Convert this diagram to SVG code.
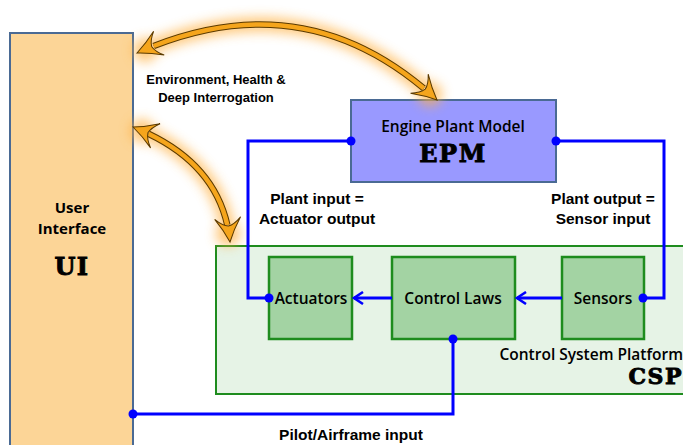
<svg xmlns="http://www.w3.org/2000/svg" width="683" height="445" viewBox="0 0 683 445">
<style>
.lbl{font-family:"Liberation Sans",Arial,sans-serif;font-weight:bold;font-size:15.5px;fill:#000;text-anchor:middle}
.sm{font-size:13px}
.cal{font-family:"Open Sans","Noto Sans",sans-serif;font-weight:600;font-size:15.5px;fill:#000;text-anchor:middle}
.ui{font-family:"Open Sans","Noto Sans",sans-serif;font-weight:bold;font-size:15px;fill:#000;text-anchor:middle}
.big{font-family:"DejaVu Serif",serif;font-weight:900;font-size:24px;fill:#000;stroke:#000;stroke-width:0.9;letter-spacing:1.5px;text-anchor:middle}
.wire{fill:none;stroke:#0000ff;stroke-width:3}
.dot{fill:#0000ff}
.gbox{fill:#a3d3a3;stroke:#1e8c1e;stroke-width:2.5}
.glow{fill:none;stroke:#ffb040;stroke-width:14}
.sh1{fill:none;stroke:#5a3a00;stroke-width:6.5}
.sh2{fill:none;stroke:#f5a51c;stroke-width:4.5}
</style>
<defs>
<filter id="glow" x="-30%" y="-30%" width="160%" height="160%"><feGaussianBlur stdDeviation="6"/></filter>
<marker id="oh" viewBox="-27 -15 30 30" refX="0" refY="0" markerWidth="30" markerHeight="30" markerUnits="userSpaceOnUse" orient="auto-start-reverse">
<path d="M0,0 Q-12,-5 -24,-13 Q-17,-6 -16,0 Q-17,6 -24,13 Q-12,5 0,0 Z" fill="#f5a51c" stroke="#5a3a00" stroke-width="1"/>
</marker>
<marker id="ch" viewBox="0 0 12 14" refX="10" refY="7" markerWidth="12" markerHeight="14" markerUnits="userSpaceOnUse" orient="auto">
<path d="M1,1 L10,7 L1,13" fill="none" stroke="#0000ff" stroke-width="2.5"/>
</marker>
</defs>
<rect width="683" height="445" fill="#fff"/>
<g id="csp">
<rect x="216" y="246" width="480" height="148" fill="#e6f3e6" stroke="#1e8c1e" stroke-width="2"/>
<text class="cal" x="683" y="360" style="text-anchor:end">Control System Platform</text>
<text class="big" x="683" y="384" style="text-anchor:end;font-size:22px">CSP</text>
</g>
<g id="ui">
<rect x="10" y="33" width="123" height="420" fill="#fcd597" stroke="#4a6a94" stroke-width="2"/>
<text class="ui" x="72" y="213">User</text>
<text class="ui" x="72" y="234">Interface</text>
<text class="big" x="72" y="275">UI</text>
</g>
<g id="epm">
<rect x="351" y="100" width="205" height="82" fill="#9999ff" stroke="#4a6a94" stroke-width="2"/>
<text class="cal" x="453" y="132">Engine Plant Model</text>
<text class="big" x="453" y="162">EPM</text>
</g>
<g id="actuators">
<rect class="gbox" x="269" y="257" width="83" height="82"/>
<text class="cal" x="311" y="304">Actuators</text>
</g>
<g id="controllaws">
<rect class="gbox" x="392" y="257" width="123" height="82"/>
<text class="cal" x="453" y="304">Control Laws</text>
</g>
<g id="sensors">
<rect class="gbox" x="562" y="257" width="82" height="82"/>
<text class="cal" x="603" y="304">Sensors</text>
</g>
<g id="connectors">
<path class="wire" d="M351,141 H248 V298 H269"/>
<path class="wire" d="M556,141 H664 V298 H643"/>
<path class="wire" d="M392,298 H354" marker-end="url(#ch)"/>
<path class="wire" d="M562,298 H517" marker-end="url(#ch)"/>
<path class="wire" d="M453,339 V414 H133"/>
<circle class="dot" cx="351" cy="141" r="4.5"/>
<circle class="dot" cx="556" cy="141" r="4.5"/>
<circle class="dot" cx="269" cy="298" r="4.5"/>
<circle class="dot" cx="643" cy="298" r="4.5"/>
<circle class="dot" cx="453" cy="339" r="4.5"/>
<circle class="dot" cx="133" cy="414" r="4.5"/>
<g filter="url(#glow)" opacity="0.7">
<path class="glow" d="M137,53 Q305,-22 437,100"/>
<path class="glow" d="M133,127 Q222,162 230,242"/>
<circle cx="145" cy="50" r="12" fill="#ffb040"/>
<circle cx="430" cy="94" r="12" fill="#ffb040"/>
<circle cx="142" cy="131" r="12" fill="#ffb040"/>
<circle cx="228" cy="234" r="12" fill="#ffb040"/>
</g>
<path class="sh1" d="M153.7,46 Q303.3,-12.6 423.7,88.3"/>
<path class="sh2" d="M153.7,46 Q303.3,-12.6 423.7,88.3"/>
<path d="M137,53 Q305,-22 437,100" fill="none" stroke="none" marker-start="url(#oh)" marker-end="url(#oh)"/>
<path class="sh1" d="M148.4,133.7 Q213.7,164.9 227.3,224.9"/>
<path class="sh2" d="M148.4,133.7 Q213.7,164.9 227.3,224.9"/>
<path d="M133,127 Q222,162 230,242" fill="none" stroke="none" marker-start="url(#oh)" marker-end="url(#oh)"/>
</g>
<g id="labels">
<text class="lbl sm" x="216" y="84">Environment, Health &amp;</text>
<text class="lbl sm" x="216" y="102">Deep Interrogation</text>
<text class="lbl" x="317" y="204">Plant input =</text>
<text class="lbl" x="317" y="224">Actuator output</text>
<text class="lbl" x="603" y="204">Plant output =</text>
<text class="lbl" x="603" y="224">Sensor input</text>
<text class="lbl" x="351" y="440">Pilot/Airframe input</text>
</g>
</svg>
